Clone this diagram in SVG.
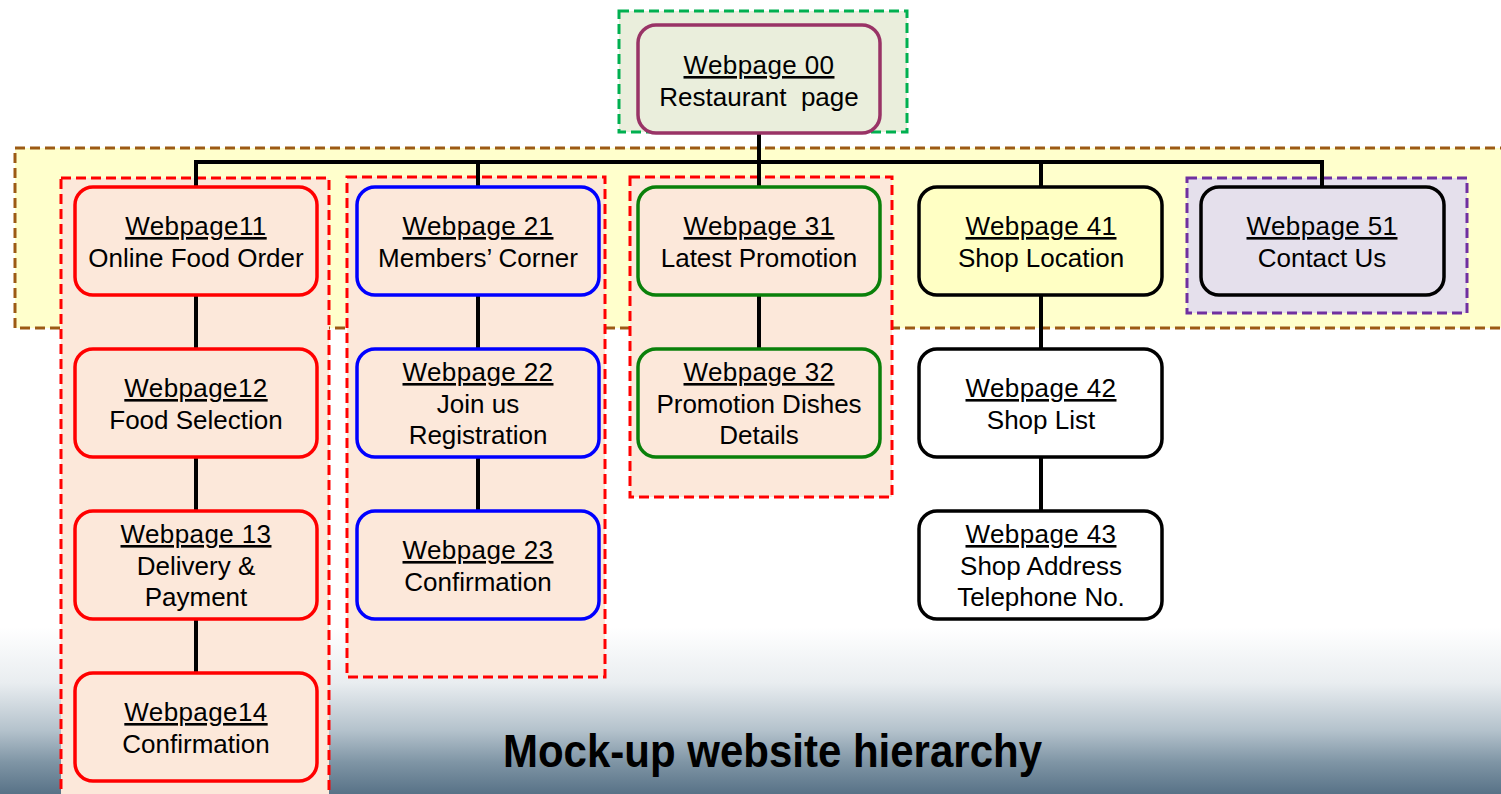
<svg xmlns="http://www.w3.org/2000/svg" width="1501" height="794" viewBox="0 0 1501 794">
<defs>
<linearGradient id="bg" x1="0" y1="0" x2="0" y2="794" gradientUnits="userSpaceOnUse">
<stop offset="0" stop-color="#ffffff"/>
<stop offset="0.79" stop-color="#ffffff"/>
<stop offset="0.86" stop-color="#e9edf0"/>
<stop offset="0.92" stop-color="#b4c2cc"/>
<stop offset="0.96" stop-color="#7f95a5"/>
<stop offset="1" stop-color="#587287"/>
</linearGradient>
<style>
.grp{stroke-width:3;stroke-dasharray:10 5}
.node{stroke-width:3.5}
.t{font-family:"Liberation Sans",Arial,sans-serif;font-size:26px;fill:#000;text-anchor:middle}
.h{text-decoration:underline;letter-spacing:0.4px}
.c{stroke:#000;stroke-width:4;fill:none}
</style>
</defs>
<rect x="0" y="0" width="1501" height="794" fill="url(#bg)"/>

<g id="groups">
<rect id="band" class="grp" x="15" y="148" width="1500" height="180" fill="#ffffcc" stroke="#9c5a14"/>
<rect id="grp-root" class="grp" x="619" y="11" width="288" height="121" fill="#eaeedc" stroke="#00b050"/>
<rect id="grp1" class="grp" x="61" y="178" width="268" height="630" fill="#fce8da" stroke="#ff0000"/>
<rect id="grp2" class="grp" x="347" y="177" width="258" height="500" fill="#fce8da" stroke="#ff0000"/>
<rect id="grp3" class="grp" x="630" y="177" width="262" height="320" fill="#fce8da" stroke="#ff0000"/>
<rect id="grp5" class="grp" x="1187" y="178" width="280" height="135" fill="#e5e0ec" stroke="#7030a0"/>
</g>

<g id="connectors">
<path class="c" d="M759 133 V162 M196 162 H1323 M196 160 V187 M478 160 V187 M759 160 V187 M1041 160 V187 M1322 160 V187"/>
<path class="c" d="M196 295 V349 M196 457 V511 M196 619 V673"/>
<path class="c" d="M478 295 V349 M478 457 V511"/>
<path class="c" d="M759 295 V349"/>
<path class="c" d="M1041 295 V349 M1041 457 V511"/>
</g>

<g id="n00"><rect class="node" x="638" y="25" width="242" height="108" rx="18" fill="#eaeedc" stroke="#993366"/>
<text class="t h" x="759" y="74">Webpage 00</text><text class="t" x="759" y="106" xml:space="preserve">Restaurant  page</text></g>

<g id="n11"><rect class="node" x="75" y="187" width="242" height="108" rx="18" fill="#fce8da" stroke="#ff0000"/>
<text class="t h" x="196" y="235">Webpage11</text><text class="t" x="196" y="267">Online Food Order</text></g>
<g id="n12"><rect class="node" x="75" y="349" width="242" height="108" rx="18" fill="#fce8da" stroke="#ff0000"/>
<text class="t h" x="196" y="397">Webpage12</text><text class="t" x="196" y="429">Food Selection</text></g>
<g id="n13"><rect class="node" x="75" y="511" width="242" height="108" rx="18" fill="#fce8da" stroke="#ff0000"/>
<text class="t h" x="196" y="543">Webpage 13</text><text class="t" x="196" y="575">Delivery &amp;</text><text class="t" x="196" y="606">Payment</text></g>
<g id="n14"><rect class="node" x="75" y="673" width="242" height="108" rx="18" fill="#fce8da" stroke="#ff0000"/>
<text class="t h" x="196" y="721">Webpage14</text><text class="t" x="196" y="753">Confirmation</text></g>

<g id="n21"><rect class="node" x="357" y="187" width="242" height="108" rx="18" fill="#fce8da" stroke="#0000ff"/>
<text class="t h" x="478" y="235">Webpage 21</text><text class="t" x="478" y="267">Members’ Corner</text></g>
<g id="n22"><rect class="node" x="357" y="349" width="242" height="108" rx="18" fill="#fce8da" stroke="#0000ff"/>
<text class="t h" x="478" y="381">Webpage 22</text><text class="t" x="478" y="413">Join us</text><text class="t" x="478" y="444">Registration</text></g>
<g id="n23"><rect class="node" x="357" y="511" width="242" height="108" rx="18" fill="#fce8da" stroke="#0000ff"/>
<text class="t h" x="478" y="559">Webpage 23</text><text class="t" x="478" y="591">Confirmation</text></g>

<g id="n31"><rect class="node" x="638" y="187" width="242" height="108" rx="18" fill="#fce8da" stroke="#0a800a"/>
<text class="t h" x="759" y="235">Webpage 31</text><text class="t" x="759" y="267">Latest Promotion</text></g>
<g id="n32"><rect class="node" x="638" y="349" width="242" height="108" rx="18" fill="#fce8da" stroke="#0a800a"/>
<text class="t h" x="759" y="381">Webpage 32</text><text class="t" x="759" y="413">Promotion Dishes</text><text class="t" x="759" y="444">Details</text></g>

<g id="n41"><rect class="node" x="919" y="187" width="243" height="108" rx="18" fill="#ffffc4" stroke="#000"/>
<text class="t h" x="1041" y="235">Webpage 41</text><text class="t" x="1041" y="267">Shop Location</text></g>
<g id="n42"><rect class="node" x="919" y="349" width="243" height="108" rx="18" fill="#ffffff" stroke="#000"/>
<text class="t h" x="1041" y="397">Webpage 42</text><text class="t" x="1041" y="429">Shop List</text></g>
<g id="n43"><rect class="node" x="919" y="511" width="243" height="108" rx="18" fill="#ffffff" stroke="#000"/>
<text class="t h" x="1041" y="543">Webpage 43</text><text class="t" x="1041" y="575">Shop Address</text><text class="t" x="1041" y="606">Telephone No.</text></g>

<g id="n51"><rect class="node" x="1201" y="187" width="243" height="108" rx="18" fill="#e5e0ec" stroke="#000"/>
<text class="t h" x="1322" y="235">Webpage 51</text><text class="t" x="1322" y="267">Contact Us</text></g>

<text id="title" x="503" y="767" font-family="'Liberation Sans',Arial,sans-serif" font-weight="bold" font-size="46" textLength="539" lengthAdjust="spacingAndGlyphs" fill="#000">Mock-up website hierarchy</text>
</svg>
